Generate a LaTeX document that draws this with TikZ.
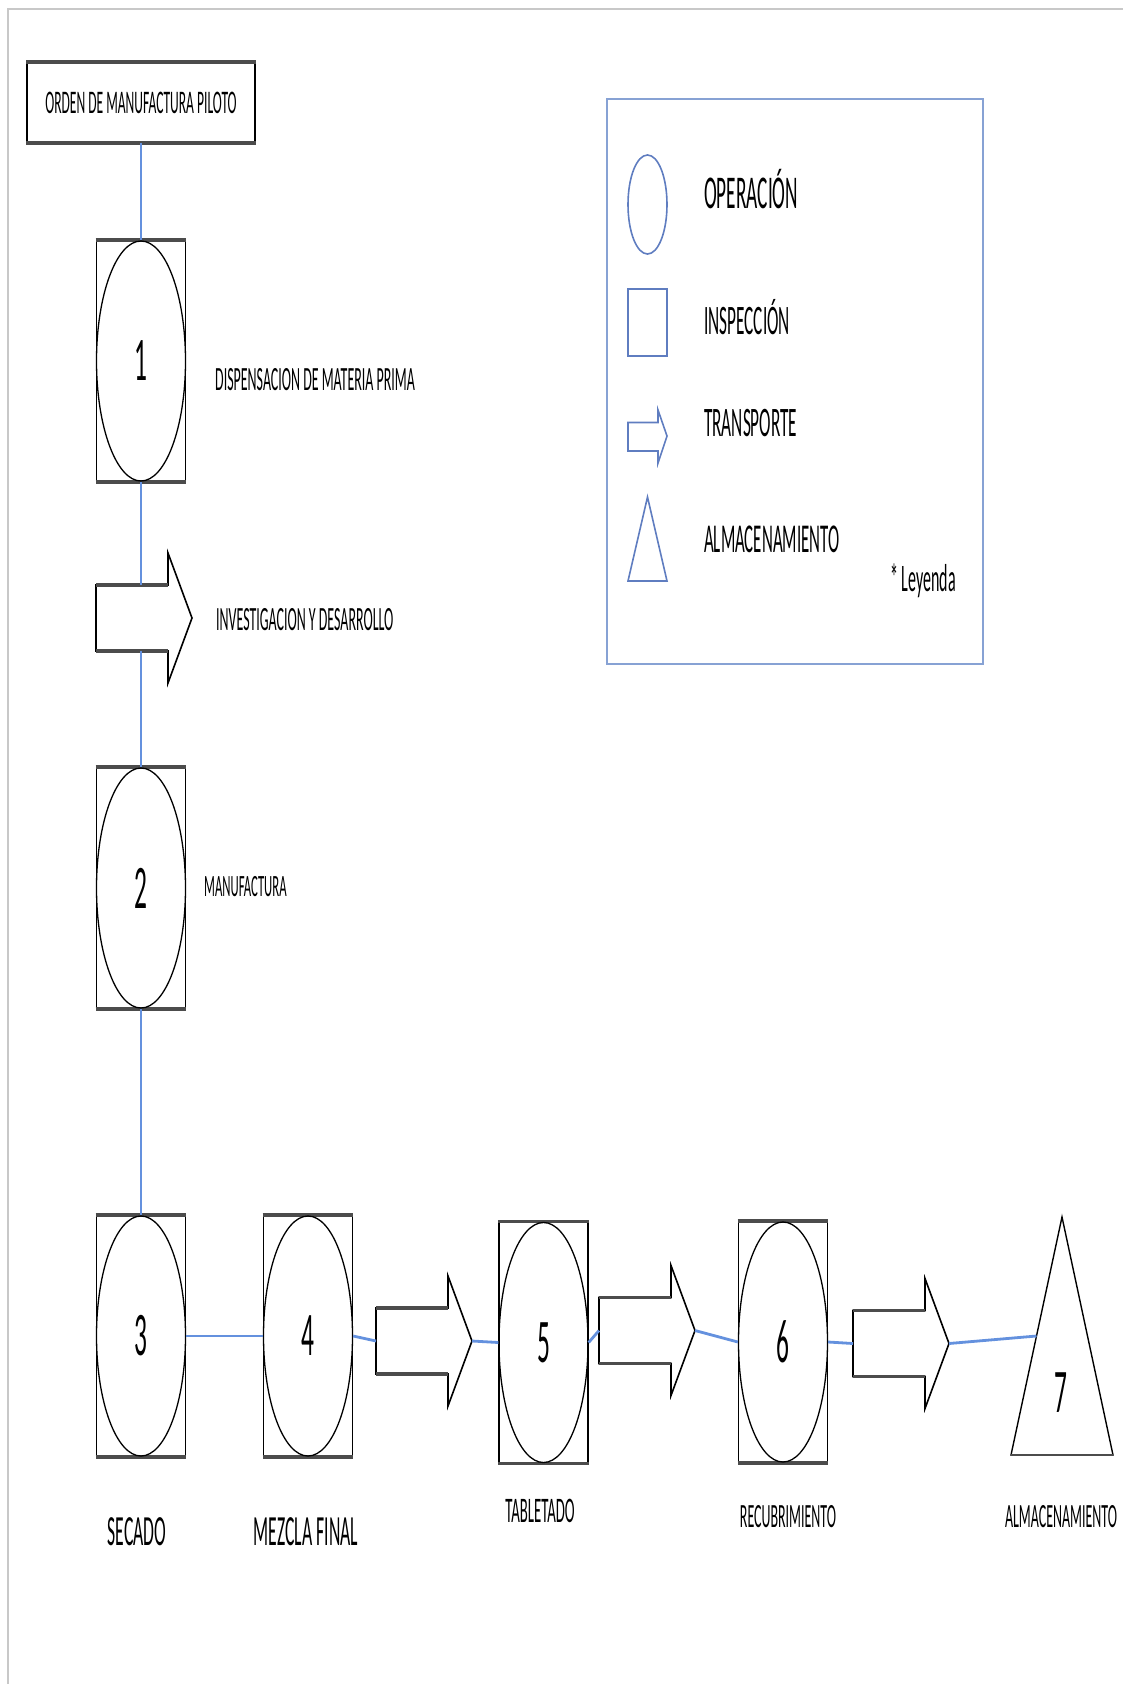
\documentclass[tikz,border=0pt]{standalone}
\usepackage{fontspec}
\setmainfont{Carlito}[FakeStretch=0.41]
\usepackage{tikz}
\usetikzlibrary{positioning, arrows.meta, shapes.geometric, calc}
\usepackage{xcolor}
\definecolor{flowblue}{RGB}{100,145,222}
\definecolor{legendblue}{RGB}{135,162,212}
\definecolor{symblue}{RGB}{95,125,192}
\definecolor{framegray}{RGB}{200,200,200}
\newcommand{\fsz}[1]{\fontsize{#1}{#1}\selectfont}

\tikzset{
  edgeline/.style={draw=black!70, line width=3.5},
  shapeline/.style={draw, line width=1.6},
  blockarrow/.pic={
    \draw[shapeline, fill=white] (0,-33) -- (72,-33) -- (72,-65) -- (96,0) -- (72,65) -- (72,33) -- (0,33) -- cycle;
    \draw[edgeline] (0,-33) -- (72,-33) (0,33) -- (72,33);
    \coordinate (-tail) at (0,0);
    \coordinate (-tip) at (96,0);
    \coordinate (-top) at (45,-33);
    \coordinate (-bot) at (45,33);
  }
}

\begin{document}
\begin{tikzpicture}[x=1pt, y=-1pt,
  opbox/.style={shapeline, rectangle, minimum width=89, minimum height=240, inner sep=0,
    append after command={(\tikzlastnode.north west) edge[edgeline] (\tikzlastnode.north east)
      (\tikzlastnode.south west) edge[edgeline] (\tikzlastnode.south east)}},
  opring/.style={draw, ellipse, line width=1.3, minimum width=89, minimum height=240, inner sep=0, font=\fsz{62}},
  flow/.style={flowblue, line width=1.3},
  flowthick/.style={flowblue, line width=2.8},
  lbl/.style={inner sep=0, anchor=base west},
  caption/.style={inner sep=0, anchor=base},
  symbol/.style={draw=symblue, line width=1.6}]
\useasboundingbox (0,0) rectangle (1123,1684);
\draw[framegray, line width=2] (7.5,1684) -- (7.5,9) -- (1123,9);

% Start
\node[shapeline, minimum width=228, minimum height=79, inner sep=0, font=\fsz{33},
  append after command={(\tikzlastnode.north west) edge[edgeline] (\tikzlastnode.north east)
    (\tikzlastnode.south west) edge[edgeline] (\tikzlastnode.south east)}]
  (orden) at (141,102.5) {ORDEN DE MANUFACTURA PILOTO};

% Vertical part
\node[opbox] (b1) at (141,361) {};
\node[opring] (n1) at (b1) {1};
\node[lbl, font=\fsz{34}] (t1) at (215,390) {DISPENSACION DE MATERIA PRIMA};

\pic (a0) at (96,618) {blockarrow};
\node[lbl, font=\fsz{34}] (ta0) at (216,630) {INVESTIGACION Y DESARROLLO};

\node[opbox] (b2) at (141,888) {};
\node[opring] (n2) at (b2) {2};
\node[lbl, font=\fsz{31}] (t2) at (204,896) {MANUFACTURA};

\draw[flow] (orden.south) -- (n1.north);
\draw[flow] (n1.south) -- (a0-top);
\draw[flow] (a0-bot) -- (n2.north);

% Bottom row
\node[opbox] (b3) at (141,1336) {};
\node[opring] (n3) at (b3) {3};
\node[opbox] (b4) at (308,1336) {};
\node[opring] (n4) at (b4) {4};
\pic (a1) at (376,1341) {blockarrow};
\node[opbox] (b5) at (543.5,1342.5) {};
\node[opring] (n5) at (b5) {5};
\pic (a2) at (599,1330.5) {blockarrow};
\node[opbox] (b6) at (783,1342) {};
\node[opring] (n6) at (b6) {6};
\pic (a3) at (853,1343.5) {blockarrow};
\draw[shapeline, line width=1.4] (1062,1217) -- (1113,1455) -- (1011,1455) -- cycle;
\draw[edgeline, line width=2.5] (1011,1455) -- (1113,1455);
\node[inner sep=0, font=\fsz{62}] (n7) at (1061,1393) {7};
\coordinate (t7in) at (1036.5,1336);

\draw[flow] (n2.south) -- (n3.north);
\draw[flowthick] (n3.east) -- (n4.west);
\draw[flowthick] (n4.east) -- (a1-tail);
\draw[flowthick] (a1-tip) -- (n5.west);
\draw[flowthick] (n5.east) -- (a2-tail);
\draw[flowthick] (a2-tip) -- (n6.west);
\draw[flowthick] (n6.east) -- (a3-tail);
\draw[flowthick] (a3-tip) -- (t7in);

\node[caption, font=\fsz{43}] (c3) at (137,1545) {SECADO};
\node[caption, font=\fsz{43}] (c4) at (306,1545) {MEZCLA FINAL};
\node[caption, font=\fsz{36}] (c5) at (540,1522) {TABLETADO};
\node[caption, font=\fsz{34}] (c6) at (788,1527) {RECUBRIMIENTO};
\node[caption, font=\fsz{34}] (c7) at (1061,1527) {ALMACENAMIENTO};

% Legend
\node[draw=legendblue, line width=2, minimum width=376, minimum height=565] (leyenda) at (795,381.5) {};
\node[symbol, ellipse, minimum width=39, minimum height=99, inner sep=0] (lop) at (647.5,204.5) {};
\node[symbol, rectangle, minimum width=39, minimum height=67, inner sep=0] (lin) at (647.5,322.5) {};
\draw[symbol] (628,422.5) -- (658,422.5) -- (658,410) -- (667,436) -- (658,463) -- (658,451) -- (628,451) -- cycle;
\draw[symbol] (647.5,497) -- (667,581) -- (628,581) -- cycle;
\node[lbl, font=\fsz{47}] (lt1) at (704,208) {OPERACIÓN};
\node[lbl, font=\fsz{42}] (lt2) at (704,334.5) {INSPECCIÓN};
\node[lbl, font=\fsz{42}] (lt3) at (704,436) {TRANSPORTE};
\node[lbl, font=\fsz{41}] (lt4) at (704,552.5) {ALMACENAMIENTO};
\node[lbl, font=\fsz{39}] (lt5) at (890,591) {* Leyenda};
\end{tikzpicture}
\end{document}
